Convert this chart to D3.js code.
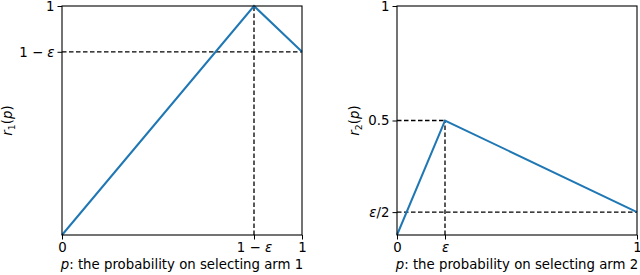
<!DOCTYPE html>
<html>
<head>
<meta charset="utf-8">
<script src="https://cdn.jsdelivr.net/npm/d3@7"></script>
<style>
  body { margin: 0; background: #fff; }
  svg { font-family: "DejaVu Sans", sans-serif; }
</style>
</head>
<body>
<div id="chart"></div>
<script>
// values (epsilon = 0.2)
const leftX = [0, 0.8, 1];
const leftY = [0, 1, 0.8];
const rightX = [0, 0.2, 1];
const rightY = [0, 0.5, 0.1];

const leftXTicks = [0, 0.8, 1];
const leftXLabels = ["0", "1 − ε", "1"];
const leftYTicks = [0.8, 1];
const leftYLabels = ["1 − ε", "1"];
const rightXTicks = [0, 0.2, 1];
const rightXLabels = ["0", "ε", "1"];
const rightYTicks = [0.1, 0.5, 1];
const rightYLabels = ["ε/2", "0.5", "1"];

// dashed guides: [x1, y1, x2, y2]
const leftGuides = [[0, 0.8, 1, 0.8], [0.8, 0, 0.8, 1]];
const rightGuides = [[0, 0.5, 0.2, 0.5], [0.2, 0, 0.2, 0.5], [0, 0.1, 1, 0.1]];

const width = 640, height = 275;
const fontSize = 13.3;

const svg = d3.select("#chart").append("svg")
  .attr("width", width)
  .attr("height", height);

// write a string into a text node, with p, r and ε in italic
function mathText(sel, str) {
  sel.text(null);
  for (const ch of str) {
    const t = sel.append("tspan").text(ch);
    if ("εpr".includes(ch)) t.style("font-style", "italic");
  }
}

function panel(opts) {
  const x = d3.scaleLinear().domain([0, 1]).range([opts.left, opts.right]);
  const y = d3.scaleLinear().domain([0, 1]).range([opts.bottom, opts.top]);
  const g = svg.append("g");

  // guides
  g.selectAll(".guide")
    .data(opts.guides)
    .enter()
    .append("line")
    .attr("x1", (d) => x(d[0]))
    .attr("y1", (d) => y(d[1]))
    .attr("x2", (d) => x(d[2]))
    .attr("y2", (d) => y(d[3]))
    .attr("stroke", "#000")
    .attr("stroke-width", 1.3)
    .attr("stroke-dasharray", "4.5,2.5");

  // curve
  const line = d3.line().x((d) => x(d[0])).y((d) => y(d[1]));
  g.append("path")
    .datum(opts.xs.map((v, i) => [v, opts.ys[i]]))
    .attr("d", line)
    .attr("fill", "none")
    .attr("stroke", "#1f77b4")
    .attr("stroke-width", 2);

  // axes
  const xAxis = d3.axisBottom(x)
    .tickValues(opts.xTicks)
    .tickSize(4.5)
    .tickPadding(3)
    .tickFormat((d, i) => opts.xLabels[i]);
  const yAxis = d3.axisLeft(y)
    .tickValues(opts.yTicks)
    .tickSize(4.5)
    .tickPadding(3)
    .tickFormat((d, i) => opts.yLabels[i]);

  const gx = g.append("g")
    .attr("transform", `translate(0, ${opts.bottom})`)
    .call(xAxis);
  const gy = g.append("g")
    .attr("transform", `translate(${opts.left}, 0)`)
    .call(yAxis);

  [gx, gy].forEach((ax) => {
    ax.select(".domain").remove();
    ax.selectAll(".tick line").attr("stroke", "#000").attr("stroke-width", 1);
    ax.selectAll(".tick text")
      .attr("fill", "#000")
      .style("font-size", fontSize + "px")
      .style("font-family", "DejaVu Sans")
      .each(function (d, i) {
        const s = d3.select(this);
        mathText(s, s.text());
      });
  });

  // frame
  g.append("rect")
    .attr("x", opts.left)
    .attr("y", opts.top)
    .attr("width", opts.right - opts.left)
    .attr("height", opts.bottom - opts.top)
    .attr("fill", "none")
    .attr("stroke", "#000")
    .attr("stroke-width", 1.1);

  // x label
  const xl = g.append("text")
    .attr("x", (opts.left + opts.right) / 2)
    .attr("y", 269)
    .attr("text-anchor", "middle")
    .style("font-size", fontSize + "px");
  xl.append("tspan").style("font-style", "italic").text("p");
  xl.append("tspan").text(": the probability on selecting arm " + opts.arm);

  // y label r_k(p)
  const yl = g.append("text")
    .attr("transform", `translate(${opts.yLabelX}, ${(opts.top + opts.bottom) / 2}) rotate(-90)`)
    .attr("text-anchor", "middle")
    .style("font-size", fontSize + "px");
  yl.append("tspan").style("font-style", "italic").text("r");
  yl.append("tspan").attr("dy", 3).style("font-size", (fontSize * 0.7) + "px").text(opts.arm);
  yl.append("tspan").attr("dy", -3).text("(");
  yl.append("tspan").style("font-style", "italic").text("p");
  yl.append("tspan").text(")");
}

panel({
  left: 62, right: 302, top: 6, bottom: 235,
  xs: leftX, ys: leftY,
  xTicks: leftXTicks, xLabels: leftXLabels,
  yTicks: leftYTicks, yLabels: leftYLabels,
  guides: leftGuides, arm: 1, yLabelX: 12
});

panel({
  left: 397, right: 637, top: 6, bottom: 235,
  xs: rightX, ys: rightY,
  xTicks: rightXTicks, xLabels: rightXLabels,
  yTicks: rightYTicks, yLabels: rightYLabels,
  guides: rightGuides, arm: 2, yLabelX: 359
});
</script>
</body>
</html>
